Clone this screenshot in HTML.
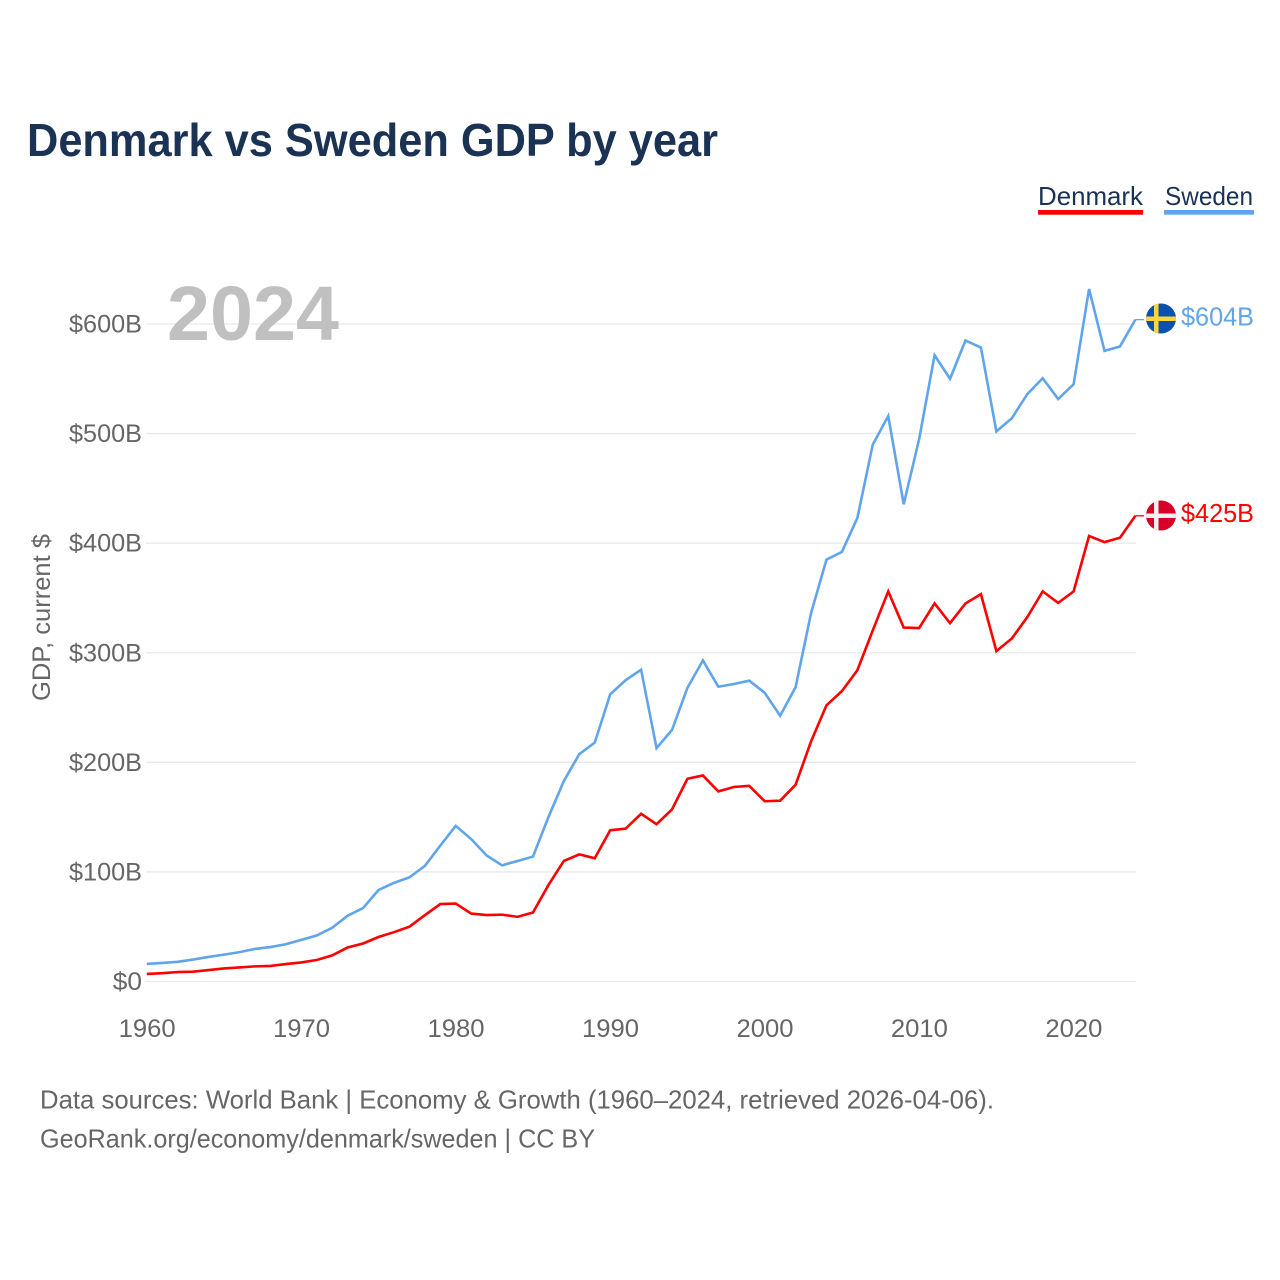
<!DOCTYPE html>
<html lang="en">
<head>
<meta charset="utf-8">
<title>Denmark vs Sweden GDP by year</title>
<style>
html,body{margin:0;padding:0;background:#fff;}
svg{display:block;font-family:"Liberation Sans","DejaVu Sans",sans-serif;}
</style>
</head>
<body>
<svg id="chart" width="1280" height="1280" viewBox="0 0 1280 1280" xmlns="http://www.w3.org/2000/svg">
  <rect x="0" y="0" width="1280" height="1280" fill="#ffffff"/>
  <text x="27" y="156" font-size="46" font-weight="bold" fill="#1a3253" textLength="691" lengthAdjust="spacingAndGlyphs">Denmark vs Sweden GDP by year</text>

  <g id="grid"></g>
  <text x="167" y="340" font-size="77" font-weight="bold" fill="#c0c0c0" textLength="172" lengthAdjust="spacingAndGlyphs">2024</text>
  <g id="yticks"></g>
  <g id="xticks"></g>
  <text transform="translate(50,701) rotate(-90)" x="0" y="0" font-size="25" fill="#666666" textLength="167" lengthAdjust="spacingAndGlyphs">GDP, current $</text>
  <g id="series"></g>

  <g>
    <text x="1038" y="205" font-size="26" fill="#1a3253" textLength="105" lengthAdjust="spacingAndGlyphs">Denmark</text>
    <rect x="1038" y="210" width="105" height="4.7" fill="#ff0000"/>
  </g>
  <g>
    <text x="1165" y="205" font-size="26" fill="#1a3253" textLength="88" lengthAdjust="spacingAndGlyphs">Sweden</text>
    <rect x="1164" y="210" width="90" height="4.7" fill="#60a5ec"/>
  </g>

  <defs>
    <clipPath id="clip-se"><circle cx="1161" cy="318.5" r="15"/></clipPath>
    <clipPath id="clip-dk"><circle cx="1161" cy="515.5" r="15"/></clipPath>
  </defs>
  <g clip-path="url(#clip-se)">
    <rect x="1146" y="303" width="30" height="31" fill="#0a52b0"/>
    <rect x="1154" y="303" width="4.5" height="31" fill="#ffd53d"/>
    <rect x="1146" y="316.5" width="30" height="4.5" fill="#ffd53d"/>
  </g>
  <g clip-path="url(#clip-dk)">
    <rect x="1146" y="500" width="30" height="31" fill="#d80027"/>
    <rect x="1154" y="500" width="4.5" height="31" fill="#f0f0f0"/>
    <rect x="1146" y="513.5" width="30" height="4.5" fill="#f0f0f0"/>
  </g>
  <text x="1181" y="325.5" font-size="26" fill="#60a5ec" textLength="73" lengthAdjust="spacingAndGlyphs">$604B</text>
  <text x="1181" y="522" font-size="26" fill="#ff0000" textLength="73" lengthAdjust="spacingAndGlyphs">$425B</text>

  <text x="40" y="1108.5" font-size="26" fill="#666666" textLength="954" lengthAdjust="spacingAndGlyphs">Data sources: World Bank | Economy &amp; Growth (1960–2024, retrieved 2026-04-06).</text>
  <text x="40" y="1147.5" font-size="26" fill="#666666" textLength="555" lengthAdjust="spacingAndGlyphs">GeoRank.org/economy/denmark/sweden | CC BY</text>
</svg>
<script>
var years = [1960,1961,1962,1963,1964,1965,1966,1967,1968,1969,1970,1971,1972,1973,1974,1975,1976,1977,1978,1979,1980,1981,1982,1983,1984,1985,1986,1987,1988,1989,1990,1991,1992,1993,1994,1995,1996,1997,1998,1999,2000,2001,2002,2003,2004,2005,2006,2007,2008,2009,2010,2011,2012,2013,2014,2015,2016,2017,2018,2019,2020,2021,2022,2023,2024];
var sweden = [16,16.9,18,20,22.4,24.5,26.8,29.7,31.4,34,38,42,49,60,67,83.5,90,95,105.5,124,142,130,115,106,110,114,150,183,207.5,218,262,275,284.5,213,229.5,268,293,269,271.5,274.5,263.5,242.5,268.5,336,385,392,423,490,516,435.5,495,571.5,550,585,578.5,502,514,536,550.5,531.5,545,632,575.5,579.5,604];
var denmark = [6.9,7.6,8.6,9,10.4,11.9,12.8,13.8,14.2,15.9,17.4,19.6,23.8,31,34.7,40.6,45,50,60.5,70.7,71.1,62,60.6,61,59,63,88,110,116,112.5,138,139.5,153,143.5,157,185,188,173.5,177.5,178.5,164.5,165,179.5,219,252,265,284,320.5,356,323,322.5,345,327,345,353.5,301.5,313,332.5,356,345.5,356,406.5,401,405,425];
var yTickValues = [0,100,200,300,400,500,600];
var yTickLabels = ["$0","$100B","$200B","$300B","$400B","$500B","$600B"];
var xTickValues = [1960,1970,1980,1990,2000,2010,2020];
var xTickLabels = ["1960","1970","1980","1990","2000","2010","2020"];

var NS = "http://www.w3.org/2000/svg";
function xScale(year){ return 146.8 + (year - 1960) * (988.6 / 64); }
function yScale(v){ return 981.5 - v * (657.5 / 600); }

var gridGroup = document.getElementById("grid");
var yGroup = document.getElementById("yticks");
var xGroup = document.getElementById("xticks");
var seriesGroup = document.getElementById("series");

yTickValues.forEach(function(v, i){
  var line = document.createElementNS(NS, "line");
  
  
  line.setAttribute("x1", 146);
  line.setAttribute("x2", 1136);
  line.setAttribute("y1", yScale(v));
  line.setAttribute("y2", yScale(v));
  line.setAttribute("stroke", "#e9e9e9");
  line.setAttribute("stroke-width", "1.3");
  gridGroup.appendChild(line);

  var label = document.createElementNS(NS, "text");
  
  
  label.setAttribute("x", 142);
  label.setAttribute("y", yScale(v) + 8.5);
  label.setAttribute("text-anchor", "end");
  label.setAttribute("font-size", "25");
  label.setAttribute("fill", "#666666");
  label.setAttribute("textLength", yTickLabels[i].length * 14.6);
  label.setAttribute("lengthAdjust", "spacingAndGlyphs");
  label.textContent = yTickLabels[i];
  yGroup.appendChild(label);
});

xTickValues.forEach(function(year, i){
  var label = document.createElementNS(NS, "text");
  
  
  label.setAttribute("x", xScale(year) + 0.3);
  label.setAttribute("y", 1037);
  label.setAttribute("text-anchor", "middle");
  label.setAttribute("font-size", "25");
  label.setAttribute("fill", "#666666");
  label.setAttribute("textLength", "57");
  label.setAttribute("lengthAdjust", "spacingAndGlyphs");
  label.textContent = xTickLabels[i];
  xGroup.appendChild(label);
});

function pointsFor(values){
  return values.map(function(v, i){
    return xScale(years[i]).toFixed(2) + "," + yScale(v).toFixed(2);
  }).join(" ");
}

var swedenLine = document.createElementNS(NS, "polyline");


swedenLine.setAttribute("points", pointsFor(sweden));
swedenLine.setAttribute("fill", "none");
swedenLine.setAttribute("stroke", "#60a5ec");
swedenLine.setAttribute("stroke-width", "2.6");
swedenLine.setAttribute("stroke-linejoin", "miter");
seriesGroup.appendChild(swedenLine);

var denmarkLine = document.createElementNS(NS, "polyline");


denmarkLine.setAttribute("points", pointsFor(denmark));
denmarkLine.setAttribute("fill", "none");
denmarkLine.setAttribute("stroke", "#ff0000");
denmarkLine.setAttribute("stroke-width", "2.6");
denmarkLine.setAttribute("stroke-linejoin", "miter");
seriesGroup.appendChild(denmarkLine);

var swedenLeader = document.createElementNS(NS, "line");


swedenLeader.setAttribute("x1", xScale(2024));
swedenLeader.setAttribute("x2", 1144);
swedenLeader.setAttribute("y1", yScale(sweden[sweden.length - 1]));
swedenLeader.setAttribute("y2", yScale(sweden[sweden.length - 1]));
swedenLeader.setAttribute("stroke", "#60a5ec");
swedenLeader.setAttribute("stroke-width", "1.3");
seriesGroup.appendChild(swedenLeader);

var denmarkLeader = document.createElementNS(NS, "line");


denmarkLeader.setAttribute("x1", xScale(2024));
denmarkLeader.setAttribute("x2", 1144);
denmarkLeader.setAttribute("y1", yScale(denmark[denmark.length - 1]));
denmarkLeader.setAttribute("y2", yScale(denmark[denmark.length - 1]));
denmarkLeader.setAttribute("stroke", "#ff0000");
denmarkLeader.setAttribute("stroke-width", "1.3");
seriesGroup.appendChild(denmarkLeader);
</script>
</body>
</html>
